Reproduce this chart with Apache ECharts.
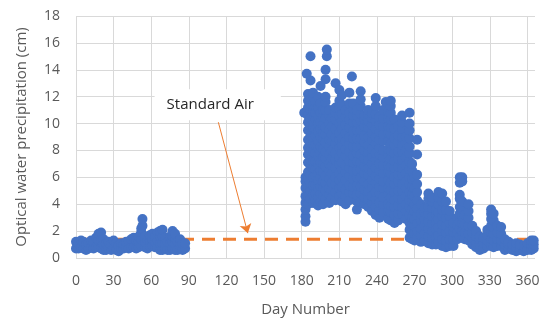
<!DOCTYPE html>
<html>
<head>
<meta charset="utf-8">
<script src="https://cdn.jsdelivr.net/npm/echarts@6/dist/echarts.min.js"></script>
<style>
  html, body { margin: 0; padding: 0; background: #fff; }
  #chart { width: 550px; height: 322px; }
</style>
</head>
<body>
<div id="chart"></div>
<script>
// values: one column of points per day
const winterDays = [0, 2, 4, 6, 8, 10, 12, 14, 16, 18, 20, 22, 24, 26, 28, 30, 32, 34, 36, 38, 40, 42, 44, 46, 48, 50, 52, 53, 55, 57, 59, 61, 63, 65, 67, 69, 71, 73, 75, 77, 79, 81, 83, 85, 87];
const winterValues = [
  [0.7, 1.2], [0.7, 1.1], [0.8, 1.3], [0.7, 1.2], [0.6, 1.0], [0.7, 1.1], [0.8, 1.3], [0.7, 1.2],
  [0.8, 1.5], [0.8, 1.3, 1.8], [0.7, 1.3, 1.9], [0.6, 1.0, 1.4], [0.6, 1.1], [0.7, 1.2], [0.6, 1.0],
  [0.7, 1.3], [0.6, 1.1], [0.5, 0.9], [0.7, 1.1], [0.7, 1.0], [0.8, 1.2], [0.7, 1.2], [0.8, 1.4],
  [0.8, 1.5], [0.7, 1.3], [0.8, 1.2, 1.6], [0.9, 1.4, 1.9, 2.2], [2.4, 2.9], [0.8, 1.2, 1.6],
  [0.7, 1.3], [0.9, 1.3, 1.7], [0.9, 1.4, 1.8], [0.8, 1.2, 1.6], [0.8, 1.3, 1.9], [0.6, 1.1, 1.6, 2.0],
  [0.6, 1.1, 1.6, 2.1], [0.7, 1.1, 1.5], [0.6, 1.2], [0.6, 1.1, 1.6], [0.7, 1.2, 1.6, 2.0],
  [0.6, 1.1, 1.5, 1.8], [0.6, 1.2], [0.7, 1.1, 1.4], [0.6, 1.1], [0.7, 1.1]
];

const summerDays = [182, 183, 184, 185, 187, 189, 191, 193, 195, 197, 199, 200, 202, 204, 207, 210, 212, 215, 218, 220, 221, 224, 227, 230, 233, 236, 239, 242, 245, 247, 249, 251, 254, 257, 260, 263, 266];
const summerValues = [
  [10.8],
  [2.7, 3.1, 3.6, 4.1, 4.6, 5.2, 5.7, 6.0],
  [13.7],
  [4.0, 4.6, 5.3, 5.9, 6.4, 7.1, 7.7, 8.2, 8.8, 9.5, 10.1, 10.6, 11.2, 11.7, 12.2],
  [4.4, 5.0, 5.5, 6.2, 6.8, 7.3, 8.0, 8.6, 9.1, 9.8, 10.4, 11.0, 11.5, 11.8, 13.2, 15.0],
  [4.1, 4.7, 5.4, 6.0, 6.7, 7.2, 7.9, 8.5, 9.0, 9.7, 10.2, 10.9, 11.4, 12.0, 12.3],
  [4.3, 4.8, 5.4, 6.1, 6.6, 7.2, 7.8, 8.4, 9.1, 9.6, 10.3, 10.8, 11.3, 11.6],
  [3.9, 4.5, 5.2, 5.8, 6.3, 7.0, 7.6, 8.2, 8.7, 9.4, 10.0, 10.5, 11.2, 12.0],
  [4.2, 4.8, 5.3, 6.0, 6.5, 7.1, 7.8, 8.3, 9.0, 9.6, 10.1, 10.8, 11.5, 12.8],
  [4.0, 4.6, 5.2, 5.7, 6.4, 7.0, 7.5, 8.1, 8.8, 9.3, 9.9, 10.5, 11.0],
  [4.4, 5.0, 5.6, 6.1, 6.8, 7.4, 7.9, 8.6, 9.2, 9.7, 10.4, 11.0, 11.6, 12.0, 13.3, 14.0],
  [15.0, 15.5],
  [4.1, 4.7, 5.2, 5.9, 6.5, 7.0, 7.7, 8.3, 8.8, 9.5, 10.0, 10.6, 11.0],
  [4.5, 5.1, 5.6, 6.3, 6.9, 7.4, 8.0, 8.7, 9.2, 9.8, 10.4],
  [4.3, 4.9, 5.5, 6.0, 6.7, 7.3, 7.8, 8.5, 9.0, 9.6, 10.3, 10.8, 11.2, 13.0],
  [4.6, 5.2, 5.8, 6.3, 7.0, 7.5, 8.2, 8.8, 9.3, 10.0, 10.6, 11.1, 11.7, 12.5],
  [4.2, 4.8, 5.3, 6.0, 6.6, 7.1, 7.8, 8.4, 8.9, 9.6, 10.2, 10.7, 11.4, 12.1],
  [4.0, 4.6, 5.1, 5.8, 6.4, 6.9, 7.6, 8.1, 8.7, 9.3, 9.9, 10.5, 11.0],
  [4.3, 4.9, 5.4, 6.1, 6.7, 7.2, 7.9, 8.5, 9.0, 9.7, 10.3, 10.8, 11.5, 12.3],
  [13.5],
  [4.8, 5.3, 5.9, 6.5, 7.1, 7.6, 8.3, 8.9, 9.4, 10.1, 10.6, 11.1, 11.5],
  [3.6, 4.2, 4.7, 5.4, 6.0, 6.5, 7.2, 7.8, 8.3, 8.9, 9.5, 10.1, 10.6, 11.0],
  [4.2, 4.8, 5.3, 6.0, 6.6, 7.1, 7.7, 8.4, 8.9, 9.5, 10.2, 10.7, 11.3, 11.8, 12.4],
  [4.0, 4.5, 5.1, 5.7, 6.3, 6.8, 7.4, 8.0, 8.6, 9.1, 9.8, 10.3, 10.6],
  [3.8, 4.4, 5.0, 5.5, 6.2, 6.7, 7.3, 7.9, 8.4, 9.0, 9.7, 10.2, 10.7, 11.0],
  [3.5, 4.1, 4.6, 5.3, 5.8, 6.4, 7.0, 7.6, 8.1, 8.8, 9.3, 9.9, 10.4, 10.8],
  [3.2, 3.8, 4.4, 4.9, 5.6, 6.1, 6.7, 7.3, 7.8, 8.5, 9.0, 9.6, 10.2, 10.7, 11.3, 11.9],
  [3.0, 3.6, 4.1, 4.8, 5.3, 5.9, 6.5, 7.0, 7.7, 8.2, 8.8, 9.4, 9.9, 10.5],
  [3.4, 4.0, 4.5, 5.2, 5.7, 6.3, 6.9, 7.5, 8.0, 8.7, 9.2, 9.8, 10.4, 11.0],
  [11.6],
  [2.9, 3.5, 4.0, 4.7, 5.2, 5.8, 6.4, 6.9, 7.6, 8.1, 8.7, 9.3, 9.8, 10.4, 10.9],
  [2.8, 3.4, 3.9, 4.5, 5.1, 5.6, 6.3, 6.8, 7.4, 8.0, 8.5, 9.2, 9.7, 10.3, 10.8, 11.3, 11.7],
  [2.6, 3.2, 3.8, 4.3, 4.9, 5.5, 6.0, 6.7, 7.2, 7.8, 8.4, 8.9, 9.6, 10.3],
  [2.8, 3.3, 3.9, 4.5, 5.0, 5.7, 6.2, 6.8, 7.4, 7.9, 8.6, 9.1, 9.8],
  [3.3, 3.8, 4.4, 5.0, 5.5, 6.2, 6.7, 7.3, 7.9, 8.4, 9.0, 9.6, 10.1, 10.6],
  [2.9, 3.5, 4.0, 4.6, 5.2, 5.7, 6.3, 6.9, 7.5, 8.0, 8.6, 9.0],
  [1.5, 2.1, 2.6, 3.2, 3.8, 4.3, 4.9, 5.5, 6.0, 6.6, 7.2, 7.8, 8.3, 8.9, 9.5, 10.0, 10.8]
];

const autumnDays = [268, 270, 272, 275, 278, 281, 284, 287, 289, 292, 295, 298, 301, 304, 306, 308, 310, 313, 316, 319, 322, 325, 328, 331, 333, 336, 339, 342, 345, 348, 351, 354, 357, 360, 363, 365];
const autumnValues = [
  [1.4, 1.9, 2.5, 3.0, 3.6, 4.2, 4.7, 5.3, 5.9, 6.5, 7.0],
  [1.3, 1.8, 2.4, 2.9, 3.5, 4.0, 4.6, 5.2, 6.0],
  [1.5, 2.0, 2.6, 3.2, 3.7, 4.3, 4.9, 5.5, 6.2, 7.7, 8.8],
  [1.2, 1.7, 2.2, 2.8, 3.3, 4.0],
  [1.3, 1.8, 2.4, 2.9, 3.4, 3.7],
  [1.1, 1.6, 2.2, 2.7, 3.3, 3.8, 4.4, 4.8],
  [1.0, 1.5, 2.0, 2.6, 3.1, 3.7, 4.2, 4.5],
  [1.0, 1.5, 2.1, 2.6, 3.2, 3.6],
  [1.2, 1.7, 2.3, 2.9, 3.4, 4.0, 4.5, 4.9],
  [0.9, 1.4, 2.0, 2.5, 3.1, 3.6, 4.2, 4.8],
  [0.8, 1.3, 1.9, 2.4, 3.0, 3.6, 4.2],
  [0.9, 1.4, 2.0, 2.6, 3.1, 3.5],
  [0.9, 1.4, 1.9, 2.3, 2.6],
  [1.4, 1.9, 2.4, 3.0],
  [1.6, 2.2, 2.7, 3.3, 3.8, 4.4, 4.7, 5.6, 6.0],
  [1.5, 2.0, 2.6, 3.1, 3.7, 4.2, 5.7, 6.0],
  [1.4, 1.9, 2.5, 3.0, 3.2],
  [1.3, 1.8, 2.4, 3.0, 3.5, 4.0],
  [1.0, 1.5, 1.9, 2.4],
  [0.8, 1.2, 1.6, 2.0],
  [0.6, 1.0, 1.4, 1.6],
  [0.7, 1.1, 1.5],
  [0.9, 1.3, 1.7, 2.1],
  [0.9, 1.4, 1.9, 2.4, 2.9, 3.3, 3.6],
  [0.8, 1.3, 1.8, 2.3, 2.8, 3.3],
  [0.9, 1.4, 1.9, 2.4],
  [0.9, 1.3, 1.8, 2.3],
  [0.6, 1.0, 1.4],
  [0.7, 1.0, 1.2],
  [0.6, 1.0],
  [0.5, 0.8, 1.1],
  [0.6, 1.0],
  [0.5, 0.9],
  [0.6, 1.1],
  [0.6, 1.0, 1.3],
  [0.7, 1.0, 1.3]
];

const standardAir = 1.4;
const standardAirDays = [0, 366];
const xTicks = [0, 30, 60, 90, 120, 150, 180, 210, 240, 270, 300, 330, 360];
const yTicks = [0, 2, 4, 6, 8, 10, 12, 14, 16, 18];
const labelText = 'Standard Air';
const labelPos = [113, 11.4];
const arrowFrom = [113.5, 10.1];
const arrowTo = [137, 1.85];

function toPoints(days, values) {
  const out = [];
  days.forEach((d, i) => values[i].forEach(v => out.push([d, v])));
  return out;
}

const points = [].concat(
  toPoints(winterDays, winterValues),
  toPoints(summerDays, summerValues),
  toPoints(autumnDays, autumnValues)
);

const gridColor = '#d9d9d9';
const textColor = '#595959';
const font = '"Open Sans", "DejaVu Sans", sans-serif';

// hide the extra grid line drawn at the axis max
const xSplitColors = xTicks.map(() => gridColor).concat(['rgba(0,0,0,0)']);

const chart = echarts.init(document.getElementById('chart'));
chart.setOption({
  animation: false,
  backgroundColor: '#fff',
  grid: { left: 76, right: 15, top: 16, bottom: 64 },
  xAxis: {
    type: 'value',
    min: xTicks[0],
    max: standardAirDays[1],
    interval: 30,
    name: 'Day Number',
    nameLocation: 'middle',
    nameGap: 44,
    nameTextStyle: { color: textColor, fontSize: 15, fontFamily: font },
    axisLine: { show: false },
    axisTick: { show: false },
    axisLabel: { color: textColor, fontSize: 14, fontFamily: font, margin: 16, showMaxLabel: false },
    splitLine: { show: true, lineStyle: { color: xSplitColors, width: 1 } }
  },
  yAxis: {
    type: 'value',
    min: yTicks[0],
    max: yTicks[yTicks.length - 1],
    interval: 2,
    name: 'Optical water precipitation (cm)',
    nameLocation: 'middle',
    nameGap: 47,
    nameTextStyle: { color: textColor, fontSize: 15, fontFamily: font },
    axisLine: { show: false },
    axisTick: { show: false },
    axisLabel: { color: textColor, fontSize: 14, fontFamily: font, margin: 16 },
    splitLine: { lineStyle: { color: gridColor, width: 1 } }
  },
  series: [
    {
      type: 'line',
      data: standardAirDays.map(d => [d, standardAir]),
      symbol: 'none',
      z: 1,
      lineStyle: { color: '#ED7D31', width: 3, type: [13, 8] },
      markLine: {
        silent: true,
        symbol: ['none', 'arrow'],
        symbolSize: 9,
        label: { show: false },
        lineStyle: { color: '#ED7D31', width: 1, type: 'solid' },
        data: [[{ coord: arrowFrom }, { coord: arrowTo }]]
      },
      markPoint: {
        silent: true,
        symbol: 'rect',
        symbolSize: 1,
        itemStyle: { color: 'rgba(0,0,0,0)' },
        label: {
          show: true,
          position: 'inside',
          formatter: labelText,
          color: '#262626',
          fontSize: 15,
          fontFamily: font,
          backgroundColor: '#fff',
          padding: [8, 27, 8, 12]
        },
        data: [{ coord: labelPos }]
      }
    },
    {
      type: 'scatter',
      data: points,
      symbolSize: 10,
      z: 2,
      itemStyle: { color: '#4472C4', opacity: 1 }
    }
  ]
});
</script>
</body>
</html>
